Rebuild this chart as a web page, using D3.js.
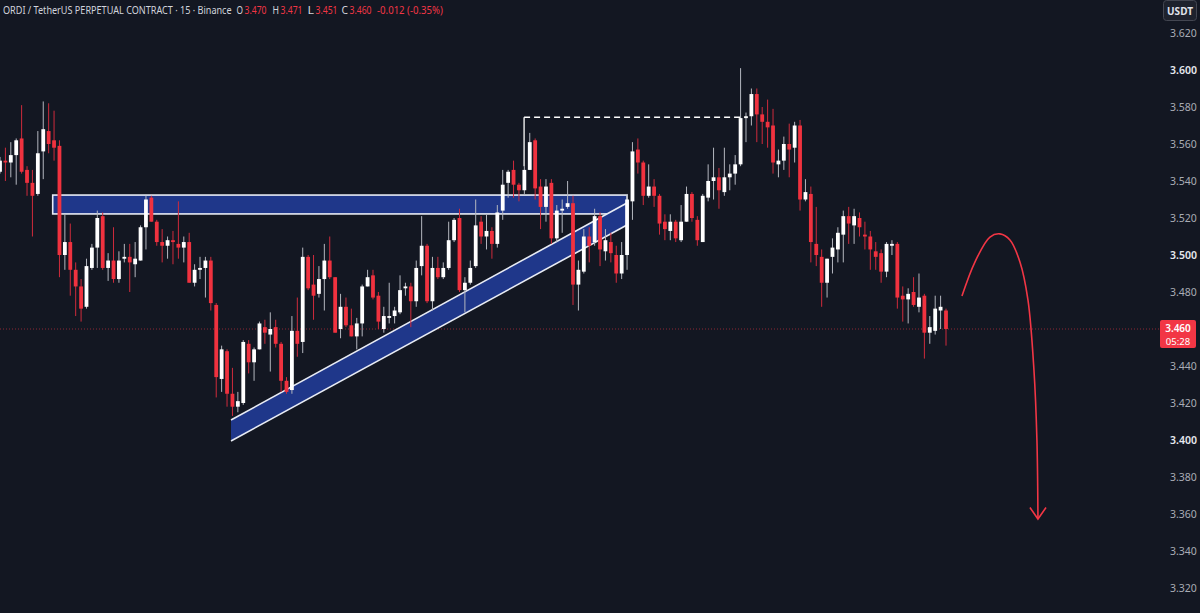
<!DOCTYPE html>
<html><head><meta charset="utf-8">
<script src="https://cdn.jsdelivr.net/npm/d3@7/dist/d3.min.js"></script>
<style>
html,body{margin:0;padding:0;background:#131722;overflow:hidden;}
svg{display:block;}
text{font-family:"Noto Sans",Roboto,sans-serif;}
</style></head>
<body>
<svg id="chart" width="1200" height="613"></svg>
<script>
// ---- DATA ----
const opens = [3.545,3.551,3.550,3.554,3.563,3.546,3.539,3.533,3.556,3.567,3.562,3.559,3.500,3.507,3.492,3.483,3.472,3.493,3.504,3.521,
3.493,3.497,3.487,3.498,3.499,3.495,3.497,3.515,3.531,3.518,3.507,3.505,3.508,3.506,3.504,3.507,3.485,3.492,3.493,3.497,
3.473,3.433,3.448,3.425,3.418,3.420,3.452,3.442,3.449,3.461,3.457,3.461,3.452,3.432,3.427,3.459,3.453,3.499,3.484,3.479,
3.487,3.497,3.488,3.460,3.472,3.462,3.456,3.463,3.483,3.489,3.478,3.460,3.466,3.467,3.469,3.482,3.483,3.475,3.494,3.505,
3.475,3.493,3.488,3.493,3.508,3.520,3.481,3.485,3.494,3.518,3.510,3.513,3.506,3.524,3.539,3.546,3.538,3.535,3.546,3.562,
3.537,3.526,3.539,3.509,3.524,3.526,3.528,3.484,3.491,3.510,3.507,3.521,3.502,3.507,3.500,3.490,3.500,3.529,3.557,3.550,
3.532,3.537,3.532,3.518,3.513,3.518,3.508,3.518,3.533,3.519,3.507,3.531,3.540,3.542,3.534,3.542,3.544,3.549,3.574,3.575,
3.587,3.576,3.572,3.570,3.549,3.551,3.560,3.558,3.570,3.530,3.533,3.506,3.499,3.485,3.499,3.503,3.511,3.521,3.516,3.520,
3.511,3.510,3.502,3.501,3.491,3.505,3.506,3.478,3.476,3.480,3.472,3.478,3.458,3.459,3.470,3.470];
const highs = [3.553,3.558,3.561,3.563,3.581,3.548,3.546,3.567,3.583,3.582,3.578,3.562,3.522,3.517,3.496,3.487,3.498,3.506,3.524,3.523,
3.501,3.515,3.502,3.506,3.506,3.507,3.516,3.532,3.532,3.519,3.514,3.510,3.513,3.529,3.510,3.512,3.495,3.499,3.499,3.499,
3.474,3.451,3.449,3.439,3.426,3.454,3.454,3.450,3.464,3.465,3.469,3.465,3.453,3.434,3.467,3.477,3.504,3.500,3.500,3.494,
3.506,3.510,3.488,3.479,3.477,3.471,3.466,3.484,3.492,3.492,3.480,3.472,3.485,3.472,3.489,3.485,3.485,3.497,3.521,3.506,
3.499,3.499,3.496,3.518,3.520,3.525,3.488,3.497,3.530,3.521,3.522,3.515,3.527,3.546,3.546,3.551,3.539,3.548,3.566,3.563,
3.541,3.541,3.541,3.527,3.530,3.540,3.532,3.497,3.514,3.515,3.525,3.523,3.514,3.512,3.505,3.507,3.533,3.561,3.563,3.551,
3.549,3.541,3.533,3.522,3.522,3.519,3.527,3.537,3.534,3.521,3.533,3.549,3.558,3.547,3.558,3.549,3.554,3.601,3.577,3.590,
3.590,3.580,3.584,3.579,3.557,3.564,3.571,3.572,3.573,3.541,3.537,3.526,3.503,3.498,3.509,3.515,3.524,3.526,3.525,3.523,
3.518,3.513,3.507,3.503,3.507,3.508,3.507,3.483,3.482,3.488,3.490,3.479,3.467,3.478,3.478,3.471];
const lows = [3.544,3.540,3.542,3.538,3.544,3.532,3.510,3.532,3.541,3.555,3.551,3.488,3.492,3.478,3.467,3.464,3.471,3.492,3.493,3.492,
3.486,3.485,3.485,3.496,3.480,3.488,3.497,3.503,3.518,3.505,3.496,3.498,3.495,3.498,3.496,3.485,3.483,3.487,3.477,3.470,
3.423,3.426,3.418,3.413,3.415,3.419,3.436,3.432,3.449,3.452,3.437,3.450,3.426,3.425,3.425,3.445,3.447,3.481,3.465,3.477,
3.470,3.487,3.458,3.455,3.461,3.456,3.449,3.456,3.483,3.476,3.460,3.458,3.463,3.463,3.468,3.478,3.461,3.472,3.489,3.474,
3.470,3.487,3.487,3.492,3.507,3.480,3.469,3.484,3.493,3.506,3.503,3.498,3.504,3.519,3.531,3.531,3.529,3.533,3.546,3.530,
3.514,3.518,3.506,3.507,3.512,3.525,3.473,3.470,3.490,3.496,3.505,3.494,3.497,3.496,3.485,3.487,3.492,3.519,3.544,3.527,
3.531,3.526,3.511,3.508,3.508,3.507,3.507,3.518,3.518,3.505,3.507,3.529,3.530,3.525,3.532,3.535,3.538,3.548,3.561,3.570,
3.561,3.560,3.558,3.544,3.542,3.546,3.542,3.550,3.524,3.529,3.496,3.494,3.472,3.477,3.490,3.496,3.496,3.506,3.506,3.510,
3.503,3.492,3.492,3.485,3.488,3.500,3.471,3.464,3.463,3.472,3.469,3.444,3.452,3.457,3.460,3.451];
const closes = [3.551,3.550,3.554,3.562,3.545,3.539,3.532,3.555,3.568,3.560,3.558,3.500,3.507,3.492,3.483,3.471,3.494,3.504,3.520,3.493,
3.497,3.487,3.497,3.499,3.496,3.498,3.515,3.530,3.518,3.507,3.505,3.508,3.507,3.504,3.507,3.485,3.492,3.493,3.497,3.474,
3.434,3.449,3.425,3.418,3.421,3.453,3.442,3.449,3.463,3.458,3.460,3.452,3.432,3.426,3.459,3.452,3.499,3.482,3.478,3.487,
3.497,3.488,3.458,3.472,3.462,3.456,3.463,3.483,3.488,3.477,3.464,3.467,3.467,3.470,3.481,3.483,3.475,3.493,3.505,3.475,
3.493,3.488,3.493,3.508,3.519,3.481,3.485,3.493,3.516,3.510,3.513,3.506,3.523,3.538,3.545,3.538,3.535,3.546,3.561,3.536,
3.526,3.537,3.509,3.524,3.525,3.528,3.484,3.492,3.510,3.505,3.521,3.503,3.508,3.501,3.490,3.500,3.530,3.556,3.550,3.532,
3.537,3.532,3.517,3.514,3.518,3.509,3.518,3.533,3.520,3.508,3.532,3.540,3.542,3.535,3.542,3.544,3.549,3.574,3.575,3.587,
3.576,3.572,3.569,3.550,3.551,3.560,3.557,3.570,3.530,3.534,3.507,3.500,3.485,3.498,3.504,3.512,3.521,3.517,3.521,3.515,
3.510,3.503,3.499,3.491,3.506,3.506,3.477,3.476,3.479,3.473,3.477,3.458,3.461,3.471,3.472,3.460];

const priceTicks = [3.320,3.340,3.360,3.380,3.400,3.420,3.440,3.460,3.480,3.500,3.520,3.540,3.560,3.580,3.600,3.620];
const majorTicks = [3.400,3.500,3.600];
const lastPrice = 3.460;
const countdown = "05:28";
const currency = "USDT";

// annotation: resistance zone [startIndex, endIndex, lowPrice, highPrice]
const zoneIdx = [9.75, 116.0];
const zonePrice = [3.5222, 3.5324];
// ascending channel: upper line and lower line points [index, price]
const channelUpper = [[42.73, 3.4108], [115.98, 3.5281]];
const channelLower = [[42.73, 3.3995], [115.98, 3.5162]];
// high marker: vertical from candle 97 high to level, dashed to candle 137
const markerIdx = [96.95, 137.4];
const markerLevel = 3.5745;
const markerBase = 3.548;
// projected path (index, price)
const arrowPath = [[177.95,3.4778],[180.35,3.4962],[183.13,3.5097],[184.98,3.5114],[186.83,3.5081],
  [188.68,3.4962],[190.16,3.4757],[191.27,3.4378],[191.82,3.4000],[192.01,3.3578]];
const arrowHead = [[190.53,3.3635],[192.01,3.3573],[193.5,3.3635]];

// header
const symbolTitle = "ORDI / TetherUS PERPETUAL CONTRACT · 15 · Binance";
const ohlcLabels = ["O","H","L","C"];
const ohlcValues = ["3.470","3.471","3.451","3.460"];
const changeText = "-0.012 (-0.35%)";

// ---- DRAW ----
const candles = opens.map((o,i)=>({i, o, h:highs[i], l:lows[i], c:closes[i]}));
const svg = d3.select("#chart");
const W = 1200, H = 613;
svg.append("rect").attr("width",W).attr("height",H).attr("fill","#131722");

const x = d3.scaleLinear().domain([0, 175]).range([0, 946]);
const y = d3.scaleLinear().domain([3.32, 3.62]).range([588, 33]);

const RED = "#f0323f", WHITE = "#ffffff";
const plot = svg.append("g");

// current price dotted line
plot.append("line")
  .attr("x1",0).attr("x2",1160)
  .attr("y1",y(lastPrice)).attr("y2",y(lastPrice))
  .attr("stroke","#f23645").attr("stroke-opacity",0.55)
  .attr("stroke-width",1).attr("stroke-dasharray","1,2");

// zone fill
const BLUE = "#1f378a";
plot.append("rect")
  .attr("x", x(zoneIdx[0])).attr("y", y(zonePrice[1]))
  .attr("width", x(zoneIdx[1]) - x(zoneIdx[0]))
  .attr("height", y(zonePrice[0]) - y(zonePrice[1]))
  .attr("fill", BLUE).attr("stroke","#e8ecf5").attr("stroke-width",1.6);

// channel
const chPoly = [channelUpper[0], channelUpper[1], channelLower[1], channelLower[0]];
plot.append("path")
  .attr("d", d3.line().x(d=>x(d[0])).y(d=>y(d[1]))(chPoly) + "Z")
  .attr("fill", BLUE);
[channelUpper, channelLower].forEach(l=>{
  plot.append("path")
    .attr("d", d3.line().x(d=>x(d[0])).y(d=>y(d[1]))(l))
    .attr("stroke","#e8ecf5").attr("stroke-width",1.6).attr("fill","none");
});

// candles
const cg = plot.append("g");
cg.selectAll("line.wick").data(candles).join("line")
  .attr("x1", d=>x(d.i)).attr("x2", d=>x(d.i))
  .attr("y1", d=>y(d.h)).attr("y2", d=>y(d.l))
  .attr("stroke", d=> d.c >= d.o ? "#b4b7bf" : "#cf2b3c")
  .attr("stroke-width", 1);
const bw = 3.8;
cg.selectAll("rect.body").data(candles).join("rect")
  .attr("x", d=>x(d.i)-bw/2).attr("width", bw)
  .attr("y", d=>y(Math.max(d.o,d.c)))
  .attr("height", d=>Math.max(1, Math.abs(y(d.o)-y(d.c))))
  .attr("fill", d=> d.c >= d.o ? WHITE : RED);

// high marker
plot.append("line")
  .attr("x1", x(markerIdx[0])).attr("x2", x(markerIdx[0]))
  .attr("y1", y(markerBase)).attr("y2", y(markerLevel))
  .attr("stroke","#ffffff").attr("stroke-width",1.3);
plot.append("line")
  .attr("x1", x(markerIdx[0])).attr("x2", x(markerIdx[1]))
  .attr("y1", y(markerLevel)).attr("y2", y(markerLevel))
  .attr("stroke","#ffffff").attr("stroke-width",1.5).attr("stroke-dasharray","6,4");

// projected arrow
plot.append("path")
  .attr("d", d3.line().x(d=>x(d[0])).y(d=>y(d[1])).curve(d3.curveCatmullRom)(arrowPath))
  .attr("fill","none").attr("stroke","#f23645").attr("stroke-width",1.6);
plot.append("path")
  .attr("d", d3.line().x(d=>x(d[0])).y(d=>y(d[1]))(arrowHead))
  .attr("fill","none").attr("stroke","#f23645").attr("stroke-width",1.6);

// price axis
const axis = d3.axisRight(y)
  .tickValues(priceTicks.filter(v=>Math.abs(v-lastPrice)>1e-6))
  .tickSize(0).tickPadding(0)
  .tickFormat(d3.format(".3f"));
const ag = svg.append("g").attr("transform","translate(1170,0)").call(axis);
ag.select(".domain").remove();
ag.selectAll("text")
  .attr("fill", d => majorTicks.some(m=>Math.abs(m-d)<1e-6) ? "#e6e8ee" : "#a9acb5")
  .attr("font-weight", d => majorTicks.some(m=>Math.abs(m-d)<1e-6) ? 600 : 400)
  .attr("font-size", "10.5px")
  .attr("font-family", "'Noto Sans', Roboto, sans-serif");

// last price label
const ly = y(lastPrice);
svg.append("rect").attr("x",1160).attr("y",ly-9).attr("width",36).attr("height",28)
  .attr("rx",2).attr("fill","#f23645");
svg.append("text").attr("x",1178).attr("y",ly+2.5).attr("text-anchor","middle")
  .attr("fill","#ffffff").attr("font-size","10px").attr("font-weight",600).text(d3.format(".3f")(lastPrice));
svg.append("text").attr("x",1178).attr("y",ly+16).attr("text-anchor","middle")
  .attr("fill","#ffffff").attr("font-size","9.5px").text(countdown);

// currency box
svg.append("rect").attr("x",1163.5).attr("y",0.5).attr("width",33).attr("height",20).attr("rx",3)
  .attr("fill","#1e222d").attr("stroke","#434651");
svg.append("text").attr("x",1180).attr("y",14.5).attr("text-anchor","middle")
  .attr("fill","#e0e3eb").attr("font-size","10px").attr("font-weight",700).text(currency);

// header: each piece measured and horizontally scaled to its target width
function fitText(str, x0, w, color){
  const t = svg.append("text").attr("x",0).attr("y",0).attr("font-size","11px")
    .attr("fill",color).text(str);
  const nat = t.node().getComputedTextLength() || w;
  t.attr("transform", `translate(${x0},14) scale(${w/nat},1)`);
  return t;
}
fitText(symbolTitle, 3, 229, "#d1d4dc");
const lblX = [236.5, 272.5, 307.5, 341.5];
ohlcLabels.forEach((l,k)=>{
  fitText(l, lblX[k], 6.5, "#d1d4dc");
  fitText(ohlcValues[k], lblX[k]+8, 22, "#f23645");
});
fitText(changeText, 377, 66, "#f23645");
</script>
</body></html>
